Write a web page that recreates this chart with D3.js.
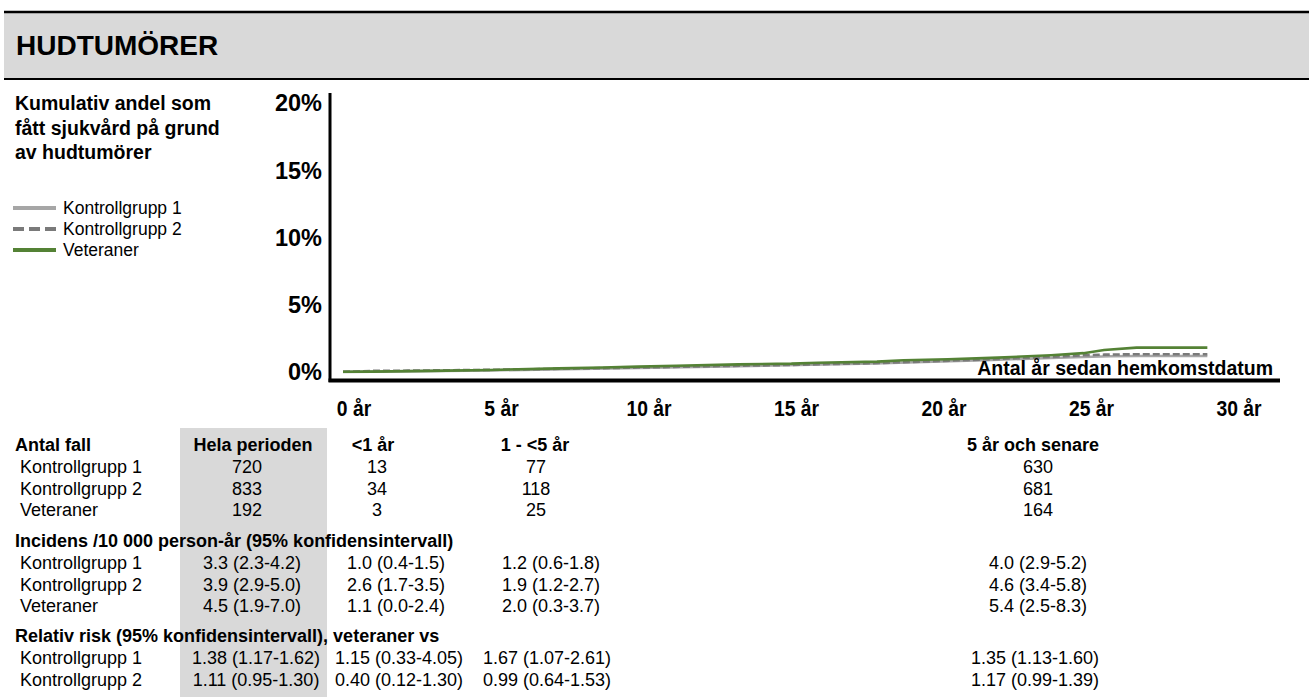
<!DOCTYPE html>
<html>
<head>
<meta charset="utf-8">
<script src="https://cdn.jsdelivr.net/npm/d3@7"></script>
<style>
  html, body { margin: 0; padding: 0; background: #fff; }
  svg { display: block; }
  text { fill: #000; }
</style>
</head>
<body>
<svg id="chart" width="1309" height="700"></svg>
<script>
// ---- Data ----
const title = "HUDTUMÖRER";
const descLines = ["Kumulativ andel som", "fått sjukvård på grund", "av hudtumörer"];
const seriesNames = ["Kontrollgrupp 1", "Kontrollgrupp 2", "Veteraner"];

// cumulative share (%) by years since homecoming
const kontroll1 = [[0,0.01],[1,0.03],[5,0.12],[8,0.23],[10,0.30],[13,0.42],[15,0.50],[18,0.63],[20,0.76],[22,0.90],[24,1.04],[25.1,1.12],[26,1.17],[27,1.19],[29.3,1.19]];
const kontroll2 = [[0,0.02],[1,0.08],[2.2,0.10],[5,0.16],[8,0.26],[10,0.33],[13,0.45],[15,0.52],[18,0.66],[20,0.80],[22,0.95],[24,1.12],[25.1,1.24],[25.8,1.29],[26.9,1.32],[29.3,1.32]];
const veteraner = [[0,0.02],[1,0.03],[3,0.08],[5,0.15],[7.3,0.27],[8.8,0.34],[10,0.40],[11.3,0.47],[13.4,0.57],[15.2,0.62],[16.1,0.69],[18.1,0.77],[19,0.87],[20.5,0.95],[22.2,1.07],[24,1.25],[25.1,1.40],[25.8,1.64],[26.9,1.81],[29.3,1.81]];

const yTicks = [0, 5, 10, 15, 20];
const xTicks = [0, 5, 10, 15, 20, 25, 30];
const xAxisTitle = "Antal år sedan hemkomstdatum";

// table
const periods = ["Hela perioden", "<1 år", "1 - <5 år", "5 år och senare"];
const casesTitle = "Antal fall";
const cases = [[720, 13, 77, 630], [833, 34, 118, 681], [192, 3, 25, 164]];
const incidenceTitle = "Incidens /10 000 person-år (95% konfidensintervall)";
const incidence = [
  ["3.3 (2.3-4.2)", "1.0 (0.4-1.5)", "1.2 (0.6-1.8)", "4.0 (2.9-5.2)"],
  ["3.9 (2.9-5.0)", "2.6 (1.7-3.5)", "1.9 (1.2-2.7)", "4.6 (3.4-5.8)"],
  ["4.5 (1.9-7.0)", "1.1 (0.0-2.4)", "2.0 (0.3-3.7)", "5.4 (2.5-8.3)"]
];
const rrTitle = "Relativ risk (95% konfidensintervall), veteraner vs";
const rrGroups = ["Kontrollgrupp 1", "Kontrollgrupp 2"];
const relRisk = [
  ["1.38 (1.17-1.62)", "1.15 (0.33-4.05)", "1.67 (1.07-2.61)", "1.35 (1.13-1.60)"],
  ["1.11 (0.95-1.30)", "0.40 (0.12-1.30)", "0.99 (0.64-1.53)", "1.17 (0.99-1.39)"]
];

// ---- Drawing ----
const svg = d3.select("#chart");
const SANS = "'Liberation Sans', Arial, sans-serif";

// header band
svg.append("rect").attr("x", 4).attr("y", 12).attr("width", 1305).attr("height", 67).attr("fill", "#d9d9d9");
svg.append("line").attr("x1", 4).attr("x2", 1309).attr("y1", 12).attr("y2", 12).attr("stroke", "#000").attr("stroke-width", 2.5);
svg.append("line").attr("x1", 4).attr("x2", 1309).attr("y1", 79).attr("y2", 79).attr("stroke", "#000").attr("stroke-width", 2);
svg.append("text").attr("x", 16).attr("y", 55).attr("font-family", SANS).attr("font-weight", "bold")
  .attr("font-size", 28).text(title);

// description
svg.append("g").selectAll("text").data(descLines).join("text")
  .attr("x", 15).attr("y", (d, i) => 110 + i * 24.5)
  .attr("font-family", SANS).attr("font-weight", "bold").attr("font-size", 19.5)
  .text(d => d);

// legend
const colors = ["#a6a6a6", "#7a7a7a", "#548235"];
const dashes = [null, "11 5", null];
const legend = svg.append("g");
seriesNames.forEach((name, i) => {
  const y = 208 + i * 21;
  legend.append("line").attr("x1", 13).attr("x2", 56).attr("y1", y).attr("y2", y)
    .attr("stroke", colors[i]).attr("stroke-width", 4).attr("stroke-dasharray", dashes[i]);
  legend.append("text").attr("x", 63).attr("y", y + 6).attr("font-family", SANS)
    .attr("font-size", 17.5).text(name);
});

// scales
const x = d3.scaleLinear().domain([0, 30]).range([343, 1228]);
const y = d3.scaleLinear().domain([0, 20]).range([372, 103]);

// y axis labels
svg.append("g").selectAll("text").data(yTicks).join("text")
  .attr("x", 322).attr("y", d => y(d)).attr("dy", "0.36em").attr("text-anchor", "end")
  .attr("font-family", SANS).attr("font-weight", "bold").attr("font-size", 23.5)
  .text(d => d + "%");

// x axis labels (condensed bold)
svg.append("g").selectAll("g").data(xTicks).join("g")
  .attr("transform", d => `translate(${x(d) + 11},408) scale(0.86,1)`)
  .append("text").attr("dy", "0.36em").attr("text-anchor", "middle")
  .attr("font-family", SANS).attr("font-weight", "bold").attr("font-size", 22.5)
  .text(d => d + " år");

// series lines
const line = d3.line().x(d => x(d[0])).y(d => y(d[1]));
[kontroll1, kontroll2, veteraner].forEach((s, i) => {
  svg.append("path").datum(s).attr("d", line).attr("fill", "none")
    .attr("stroke", colors[i]).attr("stroke-width", 2.6)
    .attr("stroke-dasharray", i === 1 ? "7 3" : null);
});

// axis lines
svg.append("line").attr("x1", 330).attr("x2", 330).attr("y1", 93).attr("y2", 382).attr("stroke", "#000").attr("stroke-width", 3);
svg.append("line").attr("x1", 328.5).attr("x2", 1280).attr("y1", 380.5).attr("y2", 380.5).attr("stroke", "#000").attr("stroke-width", 4);

svg.append("text").attr("x", 1273).attr("y", 375).attr("text-anchor", "end")
  .attr("font-family", SANS).attr("font-weight", "bold").attr("font-size", 19.5).text(xAxisTitle);

// ---- table ----
const headX = [253, 373, 535, 1033];
const casesX = [247, 377, 536, 1038];
const incX = [252, 396, 551, 1038];
const rrX = [256, 399, 547, 1035];
const table = svg.append("g");
table.append("rect").attr("x", 180).attr("y", 428).attr("width", 147).attr("height", 269).attr("fill", "#d9d9d9");

function label(txt, xx, yy, bold, anchor) {
  table.append("text").attr("x", xx).attr("y", yy).attr("dy", "0.35em")
    .attr("text-anchor", anchor || "start").attr("font-family", SANS)
    .attr("font-weight", bold ? "bold" : "normal").attr("font-size", 18).text(txt);
}

// counts
label(casesTitle, 15, 445, true);
periods.forEach((p, j) => label(p, headX[j], 445, true, "middle"));
seriesNames.forEach((g, i) => {
  const yy = 467 + i * 21.5;
  label(g, 20, yy, false);
  cases[i].forEach((v, j) => label(v, casesX[j], yy, false, "middle"));
});

// incidence
label(incidenceTitle, 15, 541, true);
seriesNames.forEach((g, i) => {
  const yy = 563 + i * 21.5;
  label(g, 20, yy, false);
  incidence[i].forEach((v, j) => label(v, incX[j], yy, false, "middle"));
});

// relative risk
label(rrTitle, 15, 636, true);
rrGroups.forEach((g, i) => {
  const yy = 658 + i * 21.5;
  label(g, 20, yy, false);
  relRisk[i].forEach((v, j) => label(v, rrX[j], yy, false, "middle"));
});
</script>
</body>
</html>
